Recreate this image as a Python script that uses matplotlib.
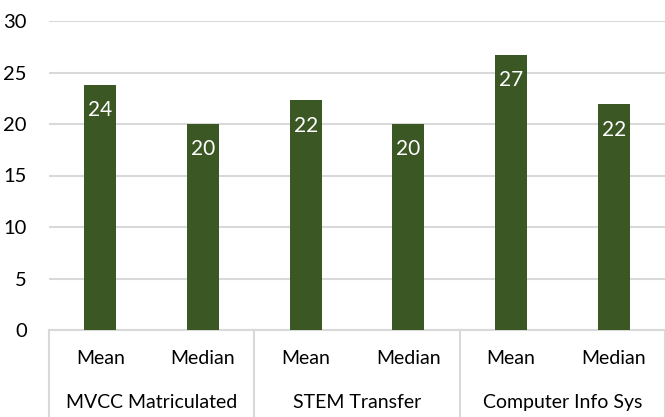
import numpy as np
import matplotlib
matplotlib.use("Agg")
import matplotlib.pyplot as plt
import matplotlib.transforms as mtransforms

plt.rcParams['font.family'] = ['Lato', 'DejaVu Sans']

groups = ['MVCC Matriculated', 'STEM Transfer', 'Computer Info Sys']
stats = ['Mean', 'Median']
values = [23.8, 20.0, 22.3, 20.0, 26.7, 21.9]
labels = ['24', '20', '22', '20', '27', '22']

bar_color = '#3A5724'
grid_color = '#D9D9D9'

fig = plt.figure(figsize=(6.65, 4.17), dpi=100)
ax = fig.add_axes([49 / 665, 87 / 417, 1 - 49 / 665, 309 / 417])

x = np.arange(len(values))
bars = ax.bar(x, values, width=0.31, color=bar_color, zorder=3)

for b, lab in zip(bars, labels):
    ax.annotate(lab, (b.get_x() + b.get_width() / 2, b.get_height()),
                xytext=(0, -11), textcoords='offset points',
                ha='center', va='top', color='white', fontsize=15, zorder=4)

ax.set_xlim(-0.5, len(values) - 0.5)
ax.set_ylim(0, 30)
ax.set_yticks(range(0, 31, 5))
ax.yaxis.grid(True, color=grid_color, linewidth=1.5, zorder=0)
ax.tick_params(axis='y', length=0, pad=16, labelsize=14.5)
ax.set_xticks([])
for s in ['top', 'right', 'left']:
    ax.spines[s].set_visible(False)
ax.spines['bottom'].set_color(grid_color)
ax.spines['bottom'].set_linewidth(1.5)

trans = mtransforms.blended_transform_factory(ax.transData, ax.transAxes)
for i in x:
    ax.text(i, -0.091, stats[i % 2], transform=trans, ha='center', va='center',
            fontsize=14)
for g, name in enumerate(groups):
    ax.text(2 * g + 0.5, -0.236, name, transform=trans, ha='center', va='center',
            fontsize=14)
for g in range(len(groups) + 1):
    ax.plot([2 * g - 0.5, 2 * g - 0.5], [0, -0.29], transform=trans,
            color=grid_color, linewidth=1.5, clip_on=False)

fig.savefig('out.png', dpi=100)
